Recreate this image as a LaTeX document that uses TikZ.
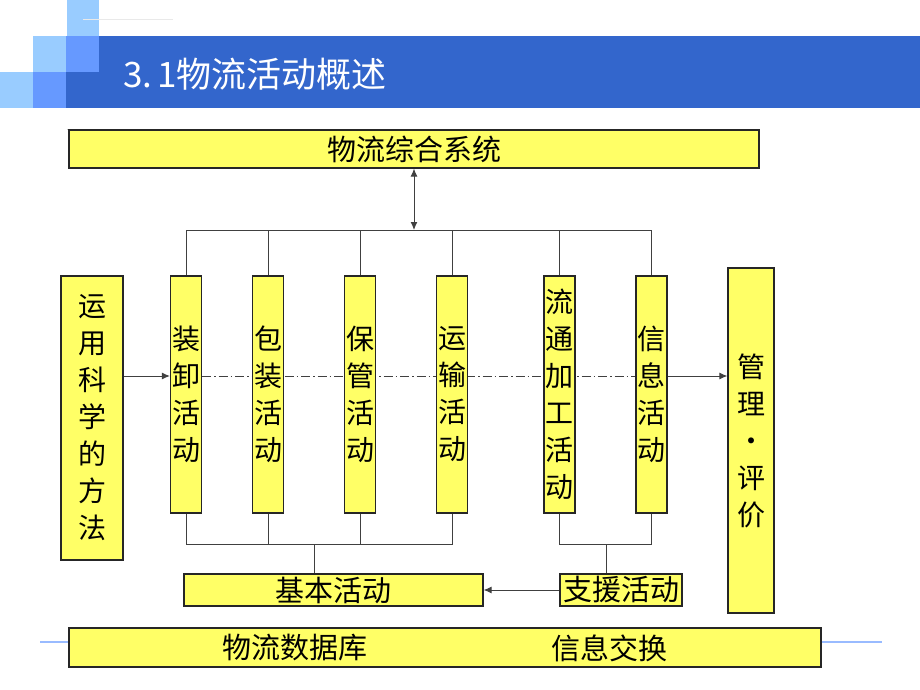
\documentclass[tikz,border=0pt]{standalone}
\usepackage{fontspec}
\setmainfont{Noto Sans CJK SC}
\usetikzlibrary{backgrounds,arrows.meta}

\definecolor{boxyellow}{HTML}{FFFF66}
\definecolor{darkbar}{HTML}{3366CC}
\definecolor{midblue}{HTML}{6699FF}
\definecolor{paleblue}{HTML}{99CCFF}
\definecolor{rulegray}{HTML}{C8C8C8}
\definecolor{ruleblue}{HTML}{99BBFF}

\tikzset{
  box/.style={draw=black!85, line width=1.2pt, fill=boxyellow, inner sep=0pt},
  vbox/.style={box, align=center, font=\fontsize{28}{37}\selectfont},
  hbox/.style={box, font=\fontsize{29}{30}\selectfont},
  link/.style={draw=black!75, line width=1pt},
  tip/.style={-{Latex[length=8pt,width=7pt]}},
  dashdot/.style={dash pattern=on 9pt off 3pt on 1.5pt off 3pt},
}

\begin{document}
\begin{tikzpicture}[x=1pt, y=-1pt]
\useasboundingbox (0,0) rectangle (920,690);

% title bar
\fill[paleblue] (67,0) rectangle (99,36);
\fill[paleblue] (33,36) rectangle (66,72);
\fill[midblue] (66,36) rectangle (99,72);
\fill[paleblue] (0,72) rectangle (33,108);
\fill[midblue] (33,72) rectangle (66,108);
\fill[darkbar] (66,72) rectangle (99,108);
\fill[darkbar] (99,36) rectangle (920,108);
\draw[rulegray!40, line width=0.8pt] (83,19) -- (173,19);
\draw[rulegray, line width=1pt] (67,129) -- (760,129);
\draw[ruleblue, line width=1.5pt] (40,642) -- (882,642);
\node[anchor=base west, text=white, inner sep=0pt, font=\fontsize{35}{35}\selectfont] (title) at (123,88) {3.\hspace{5pt}1物流活动概述};

% boxes
\node[hbox, minimum width=690pt, minimum height=38pt] (zhxt) at (414,149) {物流综合系统};

\node[vbox, minimum width=62pt, minimum height=284pt] (ff) at (92,418) {运\\用\\科\\学\\的\\方\\法};

\node[vbox, minimum width=31pt, minimum height=237pt] (zx) at (186,394.5) {装\\卸\\活\\动};
\node[vbox, minimum width=31pt, minimum height=237pt] (bz) at (268,394.5) {包\\装\\活\\动};
\node[vbox, minimum width=31pt, minimum height=237pt] (bg) at (360,394.5) {保\\管\\活\\动};
\node[vbox, minimum width=31pt, minimum height=237pt] (ys) at (452,394.5) {运\\输\\活\\动};
\node[vbox, minimum width=31pt, minimum height=237pt] (lt) at (559.5,394.5) {流\\通\\加\\工\\活\\动};
\node[vbox, minimum width=31pt, minimum height=237pt] (xx) at (651.5,394.5) {信\\息\\活\\动};

\node[vbox, minimum width=46pt, minimum height=345pt] (gl) at (751,440.5) {管\\理\\·\\评\\价};

\node[hbox, minimum width=299pt, minimum height=32pt] (jb) at (333.5,590) {基本活动};
\node[hbox, minimum width=122pt, minimum height=32pt] (zy) at (621,590) {支援活动};

\node[hbox, minimum width=752pt, minimum height=39pt] (sjk) at (445,647.5) {};
\node[font=\fontsize{29}{30}\selectfont, inner sep=0pt] (sjk1) at (295,648) {物流数据库};
\node[font=\fontsize{29}{30}\selectfont, inner sep=0pt] (sjk2) at (609,648) {信息交换};

% connectors
\coordinate (tbus) at (414,230);
\coordinate (mid) at (150,376);
\coordinate (lbus) at (314,544);
\coordinate (rbus) at (606,544);

\draw[link, {Latex[length=8pt,width=7pt]}-{Latex[length=8pt,width=7pt]}] (zhxt.south) -- (tbus);
\draw[link] (zx.north) |- (xx.north |- tbus) -- (xx.north);
\draw[link] (bz.north) -- (bz.north |- tbus);
\draw[link] (bg.north) -- (bg.north |- tbus);
\draw[link] (ys.north) -- (ys.north |- tbus);
\draw[link] (lt.north) -- (lt.north |- tbus);

\begin{scope}[on background layer]
\draw[link, dashdot] (zx.east |- mid) -- (xx.west |- mid);
\end{scope}
\draw[link, tip] (ff.east |- mid) -- (zx.west |- mid);
\draw[link, tip] (xx.east |- mid) -- (gl.west |- mid);

\draw[link] (zx.south) |- (ys.south |- lbus) -- (ys.south);
\draw[link] (bz.south) -- (bz.south |- lbus);
\draw[link] (bg.south) -- (bg.south |- lbus);
\draw[link] (lbus) -- (lbus |- jb.north);

\draw[link] (lt.south) |- (xx.south |- rbus) -- (xx.south);
\draw[link] (rbus) -- (rbus |- zy.north);

\draw[link, tip] (zy.west) -- (jb.east);
\end{tikzpicture}
\end{document}
